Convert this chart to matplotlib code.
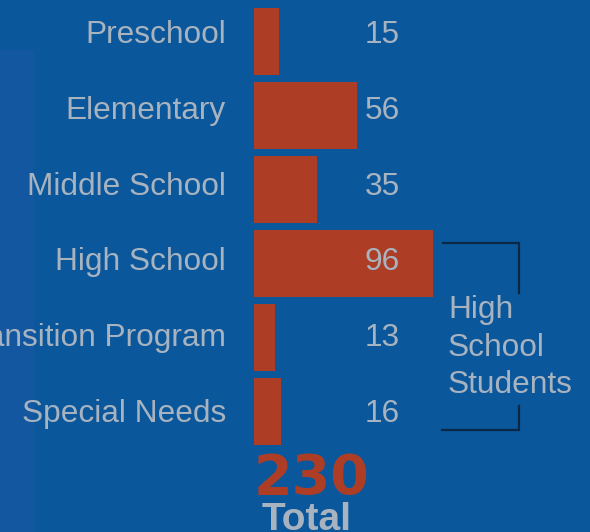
import numpy as np
import matplotlib.pyplot as plt
from matplotlib.patches import Rectangle

categories = ['Preschool', 'Elementary', 'Middle School', 'High School',
              'Transition Program', 'Special Needs']
students = [15, 56, 35, 96, 13, 16]
total = 230  # as printed on the chart
note_lines = ['High', 'School', 'Students']

bg = '#0b579c'
bar_color = '#ad3e25'
text_color = '#a8b3c0'
W, H = 590, 532

plt.rcParams['font.family'] = ['Liberation Sans', 'DejaVu Sans']

fig = plt.figure(figsize=(W / 100, H / 100), dpi=100, facecolor=bg)

def fx(px):
    return px / W

def fy(py):
    return 1 - py / H

# slightly lighter strip on the left, behind everything
bgax = fig.add_axes([0, 0, 1, 1], zorder=-1)
bgax.set_axis_off()
bgax.set_xlim(0, W)
bgax.set_ylim(H, 0)
bgax.add_patch(Rectangle((0, 50), 34, H - 50, facecolor='#1357a1', edgecolor='none'))

ax = fig.add_axes([fx(254), 0, 1 - fx(254), 1])
ax.set_facecolor('none')
ax.set_axis_off()

px_per_unit = 1.901
x0 = 1.84  # axis does not start exactly at zero
pitch = 74
y = np.arange(len(categories))
ax.set_xlim(x0, x0 + (W - 254) / px_per_unit)
ax.set_ylim((H - 41.5) / pitch, -41.5 / pitch)

ax.barh(y, students, height=67 / pitch, color=bar_color, zorder=2)

label_x = x0 + (226 - 254) / px_per_unit
value_x = x0 + (400 - 254) / px_per_unit
for i, (cat, val) in enumerate(zip(categories, students)):
    ty = (43 + 75.8 * i - 41.5) / pitch
    ax.text(label_x, ty, cat, ha='right', va='baseline', fontsize=22.8,
            color=text_color, clip_on=False)
    ax.text(value_x, ty, str(val), ha='right', va='baseline', fontsize=22.8,
            color=text_color, zorder=3)

# bracket around the high school group
bk = '#0a2846'
fig.add_artist(plt.Line2D([fx(443), fx(519), fx(519)], [fy(243), fy(243), fy(293)],
                          color=bk, lw=1.6, solid_joinstyle='miter'))
fig.add_artist(plt.Line2D([fx(519), fx(519), fx(442)], [fy(406), fy(430), fy(430)],
                          color=bk, lw=1.6, solid_joinstyle='miter'))
for k, line in enumerate(note_lines):
    fig.text(fx(448), fy(318 + 37.5 * k), line, ha='left', va='baseline',
             fontsize=22.8, color=text_color)

fig.text(fx(311), fy(494), str(total), ha='center', va='baseline', fontsize=40,
         fontweight='bold', color=bar_color, family='DejaVu Sans')
fig.text(fx(307), fy(530), 'Total', ha='center', va='baseline', fontsize=28,
         fontweight='bold', color=text_color)

fig.savefig('out.png', dpi=100, facecolor=bg)
